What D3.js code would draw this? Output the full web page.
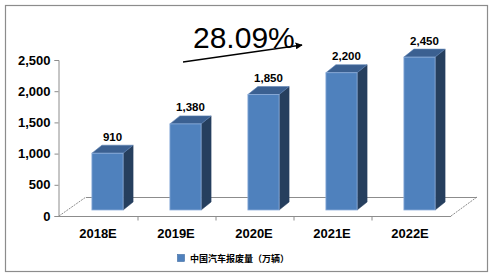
<!DOCTYPE html>
<html><head><meta charset="utf-8">
<script src="https://cdn.jsdelivr.net/npm/d3@7"></script>
<style>body{margin:0;background:#fff}svg{display:block}</style>
</head><body>
<script>
const categories = ["2018E","2019E","2020E","2021E","2022E"];
const values = [910, 1380, 1850, 2200, 2450];
const yTicks = [0, 500, 1000, 1500, 2000, 2500];
const seriesName = "中国汽车报废量（万辆）";
const cagrLabel = "28.09%";

const W = 494, H = 278;
const svg = d3.select("body").append("svg").attr("width", W).attr("height", H);

svg.append("rect").attr("x",5.5).attr("y",5.5).attr("width",482).attr("height",266)
  .attr("fill","#fff").attr("stroke","#8c8c8c").attr("stroke-width",1.2);

const x0 = 59, x1 = 449, y0 = 216, yTop = 60;
const x = d3.scaleBand().domain(categories).range([x0, x1]).padding(0);
const y = d3.scaleLinear().domain([0, 2500]).range([y0, yTop]);

// floor
const bdx = 27, bdy = -19;
const g = svg.append("g");
g.append("line").attr("x1",x0+bdx).attr("y1",y0+bdy+0.5).attr("x2",x1+bdx+1).attr("y2",y0+bdy+0.5)
  .attr("stroke","#8c8c8c").attr("stroke-width",1);
g.append("line").attr("x1",x0).attr("y1",y0).attr("x2",x0+bdx).attr("y2",y0+bdy)
  .attr("stroke","#8c8c8c").attr("stroke-width",1).attr("stroke-dasharray","2,1");
g.append("line").attr("x1",x1+2).attr("y1",y0).attr("x2",x1+bdx+1).attr("y2",y0+bdy)
  .attr("stroke","#8c8c8c").attr("stroke-width",1).attr("stroke-dasharray","2,1");

// y axis
const yAxis = d3.axisLeft(y).tickValues(yTicks).tickSize(4).tickFormat(d3.format(","));
const ya = svg.append("g").attr("transform",`translate(${x0-0.5},0)`).call(yAxis);
ya.select(".domain").attr("stroke","#8c8c8c");
ya.selectAll(".tick line").attr("stroke","#8c8c8c");
ya.selectAll(".tick text").attr("x",-8).attr("font-family","Liberation Sans, Arial, sans-serif")
  .attr("font-size",13).attr("font-weight","bold").attr("fill","#000");

// x axis
const xAxis = d3.axisBottom(x).tickSize(0).tickSizeOuter(0);
const xa = svg.append("g").attr("transform",`translate(0,${y0+0.5})`).call(xAxis);
xa.select(".domain").attr("stroke","#8c8c8c").attr("d",`M${x0},0H${x1+2}`);
xa.selectAll(".tick text").attr("y",12).attr("dy","0.71em").attr("font-family","Liberation Sans, Arial, sans-serif")
  .attr("font-size",13).attr("font-weight","bold").attr("fill","#000");
// category boundary ticks
xa.selectAll(".bnd").data(categories.slice(1)).enter().append("line")
  .attr("x1",d=>x(d)+1).attr("x2",d=>x(d)+1).attr("y1",0).attr("y2",4).attr("stroke","#8c8c8c");

// bars
const shiftX = 9.5, shiftY = -6, ddx = 10, ddy = -8;
const bw = x.bandwidth()*0.4;
const bars = svg.append("g").selectAll("g").data(values).enter().append("g");
bars.each(function(v,i){
  const gg = d3.select(this);
  const cx = x(categories[i]) + x.bandwidth()/2 + shiftX;
  const xl = cx - bw/2, xr = cx + bw/2;
  const yt = y(v) + shiftY, yb = y0 + shiftY;
  gg.append("path").attr("d",`M${xr},${yb}L${xr+ddx},${yb+ddy}L${xr+ddx},${yt+ddy}L${xr},${yt}Z`)
    .attr("fill","#263f5e").attr("stroke","#263f5e").attr("stroke-width",0.5);
  gg.append("path").attr("d",`M${xl},${yt}L${xl+ddx},${yt+ddy}L${xr+ddx},${yt+ddy}L${xr},${yt}Z`)
    .attr("fill","#3b6091").attr("stroke","#5d82b3").attr("stroke-width",0.6);
  gg.append("rect").attr("x",xl).attr("y",yt).attr("width",bw).attr("height",yb-yt)
    .attr("fill","#4f81bd").attr("stroke","#8eaedb").attr("stroke-width",0.8);
  gg.append("text").attr("x",cx+5).attr("y",yt-12.5).attr("text-anchor","middle")
    .attr("font-family","Liberation Sans, Arial, sans-serif").attr("font-size",11.5).attr("font-weight","bold")
    .text(d3.format(",")(v));
});

// CAGR annotation
svg.append("defs").append("marker").attr("id","ah").attr("viewBox","0 0 10 10").attr("refX",9).attr("refY",5)
  .attr("markerWidth",7).attr("markerHeight",7).attr("orient","auto").attr("markerUnits","userSpaceOnUse")
  .append("path").attr("d","M0,0L10,5L0,10Z").attr("fill","#000");
svg.append("line").attr("x1",183).attr("y1",62).attr("x2",302).attr("y2",45)
  .attr("stroke","#000").attr("stroke-width",1.3).attr("marker-end","url(#ah)");
svg.append("text").attr("x",193).attr("y",48).attr("font-family","Liberation Sans, Arial, sans-serif")
  .attr("font-size",30).attr("fill","#000").text(cagrLabel);

// legend
svg.append("rect").attr("x",177.5).attr("y",254.5).attr("width",7).attr("height",7)
  .attr("fill","#4f81bd").attr("stroke","#3e6aa0").attr("stroke-width",0.6);
svg.append("text").attr("x",190).attr("y",262).attr("font-family","Noto Sans CJK SC, sans-serif")
  .attr("font-size",9).attr("font-weight","bold").attr("fill","#000").text(seriesName);
</script>
</body></html>
